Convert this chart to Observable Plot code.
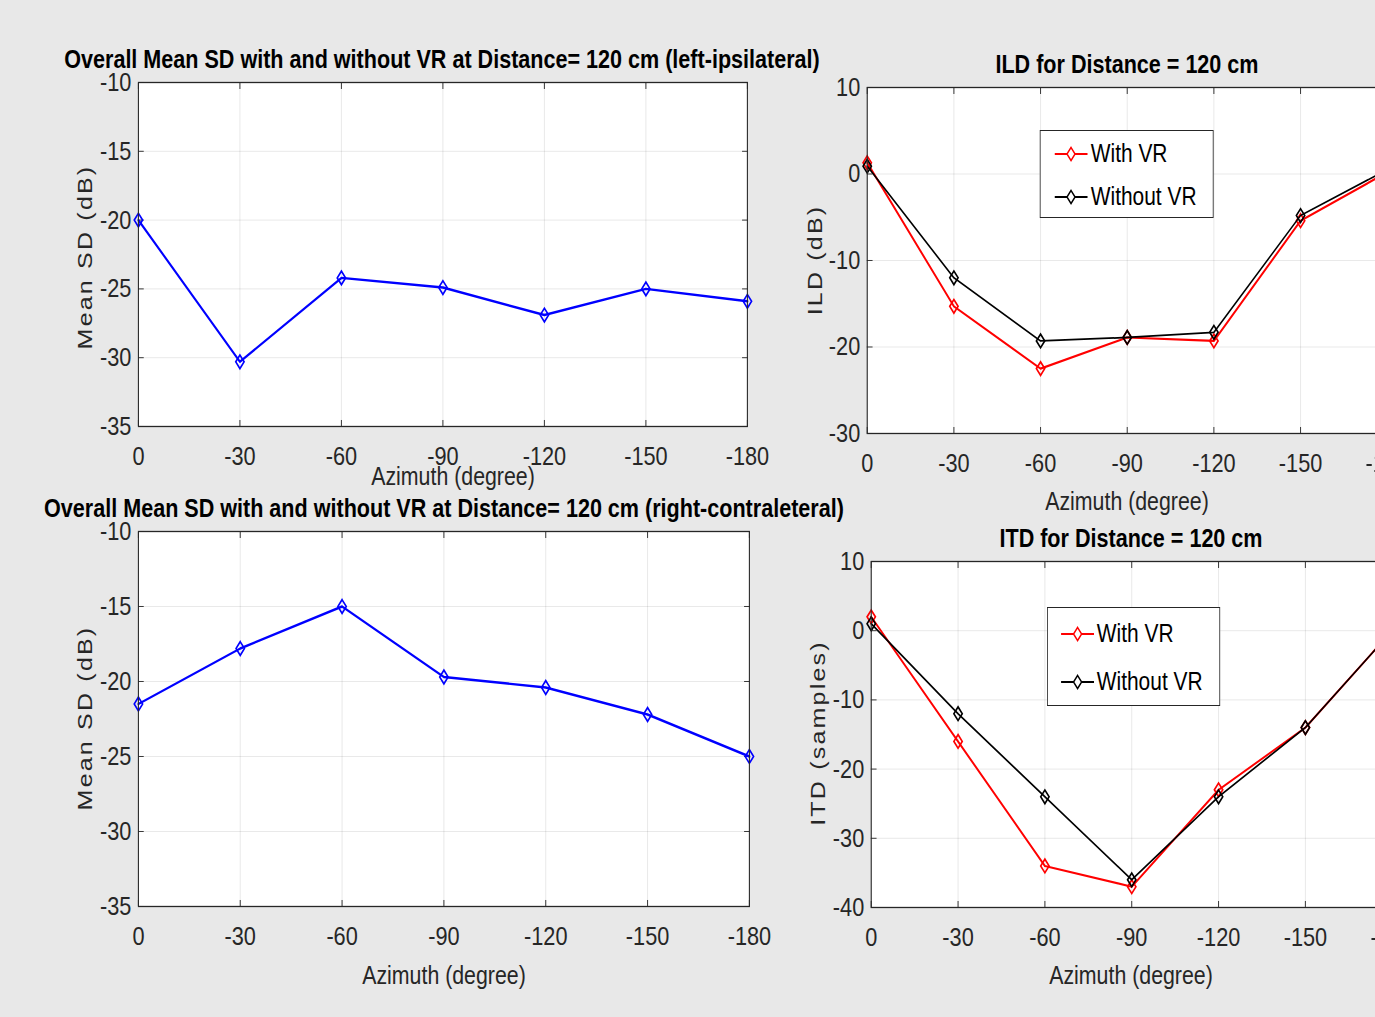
<!DOCTYPE html>
<html><head><meta charset="utf-8">
<script src="https://cdn.jsdelivr.net/npm/d3@7"></script>
<script src="https://cdn.jsdelivr.net/npm/@observablehq/plot@0.6"></script>
<style>
html,body{margin:0;padding:0;background:#e8e8e8;overflow:hidden;width:1375px;height:1017px;}
#wrap{position:absolute;left:0;top:0;width:1375px;height:1017px;overflow:hidden;}
#fig{position:absolute;left:0;top:0;height:1017px;background:#e8e8e8;transform-origin:0 0;}
#fig svg.plot{position:absolute;overflow:visible;}
.title{position:absolute;font-family:"Liberation Sans",Arial,sans-serif;font-weight:bold;font-size:26.3px;color:#000;white-space:nowrap;transform:translate(-50%,-50%);line-height:1;}
.xlab{position:absolute;font-family:"Liberation Sans",Arial,sans-serif;font-size:26px;color:#262626;white-space:nowrap;transform:translate(-50%,-50%);line-height:1;}
.ylab{position:absolute;font-family:"Liberation Sans",Arial,sans-serif;font-size:25px;letter-spacing:2.2px;color:#262626;white-space:nowrap;transform:translate(-50%,-50%) rotate(-90deg);line-height:1;}
.legend{position:absolute;background:#fff;border:1px solid #262626;box-sizing:border-box;}
.legend .entry{position:absolute;left:0;height:30px;display:flex;align-items:center;transform:translateY(-50%);}
.legend .entry span{font-family:"Liberation Sans",Arial,sans-serif;font-size:25.5px;color:#000;white-space:nowrap;line-height:1;}
</style>
</head><body>
<div id="wrap"><div id="fig"></div></div>
<script>
// ---- data ----
const azimuth = [0, -30, -60, -90, -120, -150, -180];
const azimuthTicks = [0, -30, -60, -90, -120, -150, -180];
const sdLeft  = [-20.0, -30.3, -24.2, -24.9, -26.9, -25.0, -25.9];
const sdRight = [-21.5, -17.8, -15.0, -19.7, -20.4, -22.2, -25.0];
const ildWithVR    = [1.3, -15.3, -22.5, -18.9, -19.3, -5.4, 0.2];
const ildWithoutVR = [0.9, -12.0, -19.3, -18.9, -18.3, -4.8, 0.5];
const itdWithVR    = [2, -16, -34, -37, -23, -14, 0];
const itdWithoutVR = [1, -12, -24, -36, -24, -14, 0];
const sdTicks  = [-35, -30, -25, -20, -15, -10];
const ildTicks = [-30, -20, -10, 0, 10];
const itdTicks = [-40, -30, -20, -10, 0, 10];
const legendLabels = ["With VR", "Without VR"];

// horizontal squeeze of the whole figure (MATLAB-like narrow look)
const S = 0.82;
const X = (px) => px / S;

const fig = document.getElementById("fig");
fig.style.width = X(1375) + "px";
fig.style.transform = `scaleX(${S})`;
const table = (vals) => azimuth.map((a, i) => ({az: a, v: vals[i]}));

const diamond = {
  draw(ctx, size) {
    const r = Math.sqrt(size / Math.PI);
    const w = r * 0.75;
    ctx.moveTo(0, -r); ctx.lineTo(w, 0); ctx.lineTo(0, r); ctx.lineTo(-w, 0); ctx.closePath();
  }
};

function panel({left, top, fw, fh, mL, mT, yDomain, yTicks, series}) {
  const mR = 40, mB = 70;
  const marks = [
    Plot.frame({fill: "white", stroke: null}),
    Plot.gridX(azimuthTicks, {stroke: "#000", strokeOpacity: 0.1}),
    Plot.gridY(yTicks, {stroke: "#000", strokeOpacity: 0.1}),
    Plot.axisX(azimuthTicks, {anchor: "bottom", tickSize: -6, tickPadding: 26, tickFormat: d => String(d), label: null, stroke: "#262626"}),
    Plot.axisX(azimuthTicks, {anchor: "top", tickSize: -6, tickFormat: () => "", label: null, stroke: "#262626"}),
    Plot.axisY(yTicks, {anchor: "left", tickSize: -7, tickPadding: 15.5, tickFormat: d => String(d), label: null, stroke: "#262626"}),
    Plot.axisY(yTicks, {anchor: "right", tickSize: -7, tickFormat: () => "", label: null, stroke: "#262626"}),
  ];
  for (const s of series) {
    const data = table(s.values);
    marks.push(Plot.line(data, {x: "az", y: "v", stroke: s.color, strokeWidth: s.width}));
    marks.push(Plot.dot(data, {x: "az", y: "v", stroke: s.color, strokeWidth: 1.9, fill: "none", symbol: diamond, r: 6.8}));
  }
  marks.push(Plot.frame({stroke: "#262626", strokeWidth: 1.3}));
  const svg = Plot.plot({
    width: mL + fw + mR,
    height: mT + fh + mB,
    marginLeft: mL, marginTop: mT, marginRight: mR, marginBottom: mB,
    x: {domain: [0, -180]},
    y: {domain: yDomain},
    style: {fontFamily: "'Liberation Sans',Arial,sans-serif", fontSize: "26.5px", color: "#262626", background: "transparent", overflow: "visible"},
    marks
  });
  svg.classList.add("plot");
  svg.style.left = left + "px";
  svg.style.top = top + "px";
  fig.appendChild(svg);
}

function addText(cls, text, x, y) {
  const d = document.createElement("div");
  d.className = cls; d.textContent = text;
  d.style.left = X(x) + "px"; d.style.top = y + "px";
  fig.appendChild(d);
}

function swatch(color, width) {
  const ns = "http://www.w3.org/2000/svg";
  const s = document.createElementNS(ns, "svg");
  s.setAttribute("width", X(33)); s.setAttribute("height", 20);
  s.style.marginRight = X(3) + "px";
  const L = X(33);
  const l = document.createElementNS(ns, "line");
  l.setAttribute("x1", 0); l.setAttribute("x2", L); l.setAttribute("y1", 10); l.setAttribute("y2", 10);
  l.setAttribute("stroke", color); l.setAttribute("stroke-width", width);
  const c = L / 2;
  const p = document.createElementNS(ns, "path");
  p.setAttribute("d", `M${c},3.5L${c + 4.9},10L${c},16.5L${c - 4.9},10Z`);
  p.setAttribute("fill", "white"); p.setAttribute("stroke", color); p.setAttribute("stroke-width", 1.7);
  s.appendChild(l); s.appendChild(p);
  return s;
}

function legend(left, top, w, h, swLeft, ys) {
  const box = document.createElement("div");
  box.className = "legend";
  Object.assign(box.style, {left: X(left) + "px", top: top + "px", width: X(w) + "px", height: h + "px"});
  const cols = [["#ff0000", 2.2], ["#000000", 1.8]];
  legendLabels.forEach((lab, i) => {
    const e = document.createElement("div");
    e.className = "entry";
    e.style.top = ys[i] + "px";
    e.style.left = X(swLeft) + "px";
    e.appendChild(swatch(cols[i][0], cols[i][1]));
    const sp = document.createElement("span"); sp.textContent = lab;
    e.appendChild(sp);
    box.appendChild(e);
  });
  fig.appendChild(box);
}

// top-left
panel({left: 0, top: 70, fw: X(609), fh: 344, mL: X(138), mT: 12, yDomain: [-35, -10], yTicks: sdTicks,
  series: [{values: sdLeft, color: "#0000ff", width: 2.4}]});
// bottom-left
panel({left: 0, top: 519, fw: X(611), fh: 375, mL: X(138), mT: 12, yDomain: [-35, -10], yTicks: sdTicks,
  series: [{values: sdRight, color: "#0000ff", width: 2.4}]});
// top-right ILD
panel({left: X(780), top: 75, fw: X(520), fh: 346, mL: X(87), mT: 12, yDomain: [-30, 10], yTicks: ildTicks,
  series: [{values: ildWithVR, color: "#ff0000", width: 2.2}, {values: ildWithoutVR, color: "#000000", width: 1.8}]});
// bottom-right ITD
panel({left: X(780), top: 549, fw: X(521), fh: 346, mL: X(91), mT: 12, yDomain: [-40, 10], yTicks: itdTicks,
  series: [{values: itdWithVR, color: "#ff0000", width: 2.2}, {values: itdWithoutVR, color: "#000000", width: 1.8}]});

addText("title", "Overall Mean SD with and without VR at Distance= 120 cm (left-ipsilateral)", 442, 59);
addText("title", "Overall Mean SD with and without VR at Distance= 120 cm (right-contraleteral)", 444, 508);
addText("title", "ILD for Distance = 120 cm", 1127, 64);
addText("title", "ITD for Distance = 120 cm", 1131, 538);
addText("xlab", "Azimuth (degree)", 453, 476);
addText("xlab", "Azimuth (degree)", 444, 975);
addText("xlab", "Azimuth (degree)", 1127, 501);
addText("xlab", "Azimuth (degree)", 1131, 975);
addText("ylab", "Mean SD (dB)", 85, 257);
addText("ylab", "Mean SD (dB)", 85, 718);
addText("ylab", "ILD (dB)", 815, 260);
addText("ylab", "ITD (samples)", 818, 733);

legend(1040, 130, 174, 88, 14, [23, 66]);
legend(1047, 607, 173, 99, 13, [26, 74]);
</script>
</body></html>
